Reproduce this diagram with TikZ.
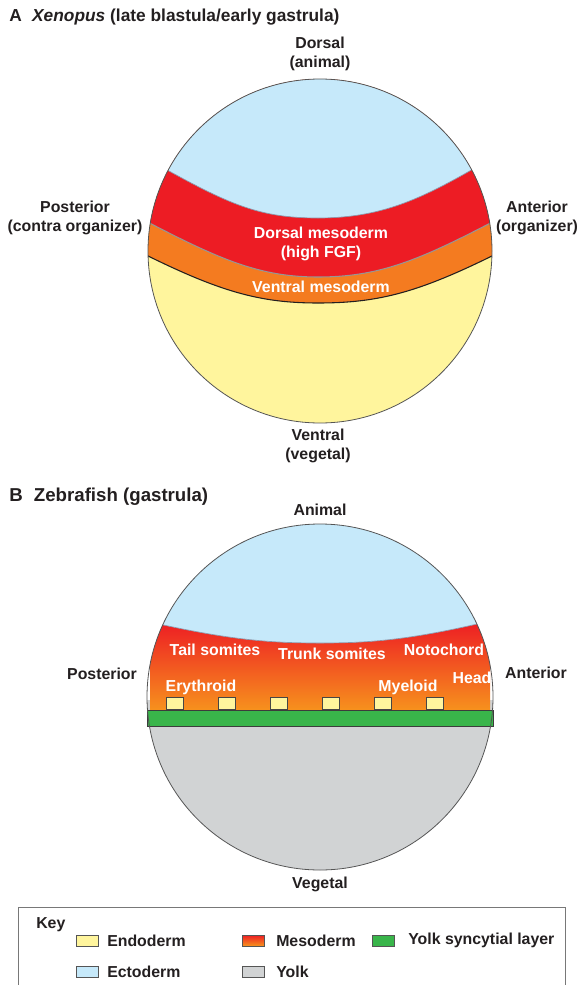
\documentclass[tikz,border=0pt]{standalone}
\usepackage{fontspec}
\setmainfont{Liberation Sans}
\usepackage{xcolor}
\usepackage{tikz}

\definecolor{ectoblue}{RGB}{198,233,250}
\definecolor{mesored}{RGB}{237,28,36}
\definecolor{mesoorange}{RGB}{244,123,32}
\definecolor{gradorange}{RGB}{247,148,29}
\definecolor{endoyellow}{RGB}{255,245,157}
\definecolor{yolkgrey}{RGB}{209,211,212}
\definecolor{yslgreen}{RGB}{57,181,74}
\definecolor{inkdark}{RGB}{35,31,32}

\begin{document}
\begin{tikzpicture}[x=0.75pt,y=0.75pt,yscale=-1,xscale=1,
   lbl/.style={align=center,inner sep=0.75pt,text=inkdark,font=\fontsize{11.9}{14.2}\selectfont\bfseries},
   wlbl/.style={align=center,inner sep=0.75pt,text=white,font=\fontsize{11.9}{14.2}\selectfont\bfseries},
   ttl/.style={anchor=west,inner sep=0.75pt,text=inkdark,font=\fontsize{14}{16}\selectfont\bfseries},
   swatch/.style={draw={rgb,255:red,85;green,85;blue,85},line width=0.6pt}]
   \useasboundingbox (0,0) rectangle (579,985);

   % Text Node
   \draw (8,17) node (titleA) [ttl,font=\fontsize{13}{16}\selectfont\bfseries] {A\hspace{0.6em}\textit{Xenopus} (late blastula/early gastrula)};

   %Shape: Circle A layers
   \begin{scope}
   \clip (320,251) circle (172);
   \fill [endoyellow] (140,70) rectangle (500,430);
   \fill [mesoorange] (140,252) .. controls (220,292) and (260,303) .. (318,303) .. controls (380,303) and (420,292) .. (500,252) -- (500,70) -- (140,70) -- cycle;
   \fill [mesored] (140,218) .. controls (220,260) and (260,277) .. (318,277) .. controls (380,277) and (420,260) .. (500,218) -- (500,70) -- (140,70) -- cycle;
   \fill [ectoblue] (160,166) .. controls (230,205) and (260,218) .. (318,218) .. controls (380,218) and (420,200) .. (480,165) -- (480,70) -- (160,70) -- cycle;
   %Lines
   \draw [draw={rgb,255:red,140;green,150;blue,170},line width=0.5pt] (160,166) .. controls (230,205) and (260,218) .. (318,218) .. controls (380,218) and (420,200) .. (480,165);
   \draw [draw={rgb,255:red,150;green,150;blue,150},line width=0.8pt] (140,218) .. controls (220,260) and (260,277) .. (318,277) .. controls (380,277) and (420,260) .. (500,218);
   \draw [draw=inkdark,line width=0.8pt] (140,252) .. controls (220,292) and (260,303) .. (318,303) .. controls (380,303) and (420,292) .. (500,252);
   \end{scope}
   \draw [draw={rgb,255:red,85;green,85;blue,85},line width=0.6pt] (320,251) circle (172);

   % Text Node
   \draw (320,53.5) node (dorsal) [lbl] {Dorsal\\(animal)};
   % Text Node
   \draw (75,218) node (posteriorA) [lbl] {Posterior\\(contra organizer)};
   % Text Node
   \draw (537,218) node (anteriorA) [lbl] {Anterior\\(organizer)};
   % Text Node
   \draw (318,446) node (ventral) [lbl] {Ventral\\(vegetal)};
   % Text Node
   \draw (321,244) node (dorsalmeso) [wlbl] {Dorsal mesoderm\\(high FGF)};
   % Text Node
   \draw (321,287) node (ventralmeso) [wlbl] {Ventral mesoderm};

   % Text Node
   \draw (8,497) node (titleB) [ttl] {B\hspace{0.6em}Zebrafish (gastrula)};

   %Shape: Circle B layers
   \begin{scope}
   \clip (320,697) circle (173);
   \fill [yolkgrey] (140,700) rectangle (500,880);
   \shade [top color=mesored,bottom color=gradorange] (150,622) .. controls (230,640) and (270,643) .. (320,643) .. controls (370,643) and (410,640) .. (490,621) -- (490,712) -- (150,712) -- cycle;
   \fill [ectoblue] (150,622) .. controls (230,640) and (270,643) .. (320,643) .. controls (370,643) and (410,640) .. (490,621) -- (490,515) -- (150,515) -- cycle;
   \draw [draw={rgb,255:red,140;green,150;blue,170},line width=0.5pt] (150,622) .. controls (230,640) and (270,643) .. (320,643) .. controls (370,643) and (410,640) .. (490,621);
   \end{scope}
   %Shape: Rectangle (yolk syncytial layer)
   \draw [fill=yslgreen,draw={rgb,255:red,60;green,60;blue,60},line width=0.6pt] (147,710) rectangle (493,726);
   %Shape: Squares (endoderm)
   \foreach \i in {0,...,5}
     \draw [fill=endoyellow,draw={rgb,255:red,70;green,70;blue,70},line width=0.6pt] ({166+52*\i},697) rectangle +(17.5,12.5);
   \draw [draw={rgb,255:red,85;green,85;blue,85},line width=0.6pt] (320,697) circle (173);

   % Text Node
   \draw (320,510) node (animal) [lbl] {Animal};
   % Text Node
   \draw (102,674) node (posteriorB) [lbl] {Posterior};
   % Text Node
   \draw (536,673) node (anteriorB) [lbl] {Anterior};
   % Text Node
   \draw (320,884) node (vegetal) [lbl] {Vegetal};
   % Text Node
   \draw (215,650) node (tail) [wlbl] {Tail somites};
   % Text Node
   \draw (332,654) node (trunk) [wlbl] {Trunk somites};
   % Text Node
   \draw (444,650) node (noto) [wlbl] {Notochord};
   % Text Node
   \draw (201,687) node (ery) [wlbl] {Erythroid};
   % Text Node
   \draw (408,687) node (myelo) [wlbl] {Myeloid};
   % Text Node
   \draw (472,678) node (head) [wlbl] {Head};

   %Shape: Key box
   \draw [draw={rgb,255:red,120;green,120;blue,120},line width=0.6pt] (18,907) rectangle (565,995);
   % Text Node
   \draw (35,925) node (key) [lbl,anchor=west] {Key};
   %Swatches
   \draw [swatch,fill=endoyellow] (76,935) rectangle (98,946);
   \shade [top color=mesored,bottom color=gradorange] (242,935) rectangle (264,946);
   \draw [swatch] (242,935) rectangle (264,946);
   \draw [swatch,fill=yslgreen] (372,935) rectangle (394,946);
   \draw [swatch,fill=ectoblue] (76,966) rectangle (98,977);
   \draw [swatch,fill=yolkgrey] (242,966) rectangle (264,977);
   % Text Node
   \draw (106,940.5) node (endo) [lbl,anchor=west] {Endoderm};
   % Text Node
   \draw (275,940.5) node (meso) [lbl,anchor=west] {Mesoderm};
   % Text Node
   \draw (407,940.5) node (ysl) [lbl,anchor=west] {Yolk syncytial layer};
   % Text Node
   \draw (106,971.5) node (ecto) [lbl,anchor=west] {Ectoderm};
   % Text Node
   \draw (275,971.5) node (yolk) [lbl,anchor=west] {Yolk};

\end{tikzpicture}
\end{document}
